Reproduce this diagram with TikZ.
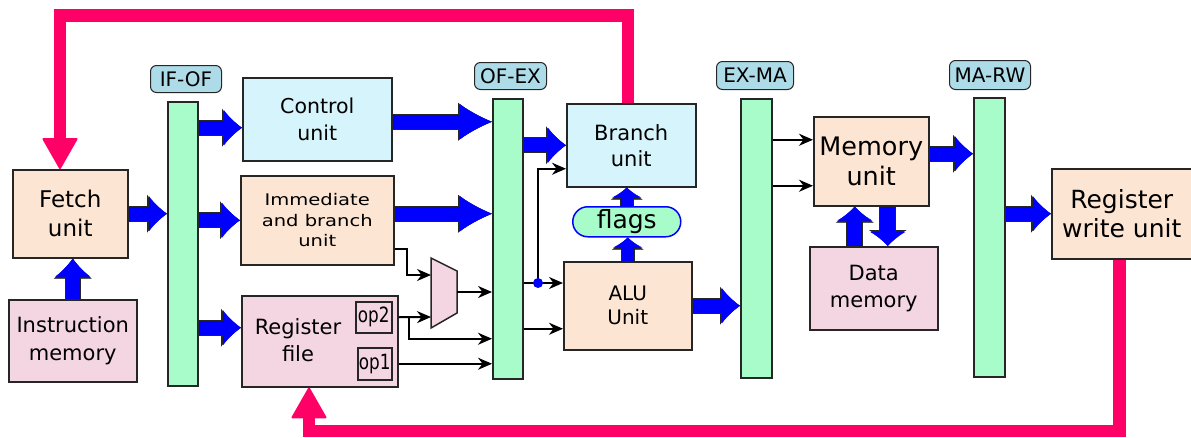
\documentclass[tikz,border=0pt]{standalone}
\usepackage{fontspec}
\setmainfont{DejaVu Sans}
\newfontfamily\widefont[FakeStretch=1.22]{DejaVu Sans}
\newfontfamily\narrowfont[FakeStretch=0.8]{DejaVu Sans}
\usetikzlibrary{arrows.meta}
\definecolor{peach}{RGB}{253,229,211}
\definecolor{rose}{RGB}{244,214,227}
\definecolor{sky}{RGB}{213,244,251}
\definecolor{mint}{RGB}{168,252,202}
\definecolor{tag}{RGB}{173,220,232}
\definecolor{loopred}{RGB}{255,0,102}
\newcommand{\fs}[2]{\fontsize{#1}{#2}\selectfont}
\tikzset{
  busline/.style n args={5}{draw=blue, line width=#1, -{Latex[length=#2,width=#3,line width=0.4pt]},
    preaction={draw=black!85, line width=#1+2pt, -{Latex[length=#4,width=#5,line width=0.4pt]}}},
  bus/.style={busline={14pt}{18pt}{35pt}{20pt}{38pt}},
  longbus/.style={busline={14pt}{32pt}{35pt}{34pt}{38pt}},
  shortbus/.style={busline={12pt}{10pt}{29pt}{12pt}{32pt}},
  membus/.style={busline={15pt}{14pt}{35pt}{16pt}{38pt}}
}

\begin{document}
\begin{tikzpicture}[x=1pt,y=-1pt]
\tikzstyle{every node}+=[inner sep=0pt]
\tikzstyle{unit}=[draw=black!85, line width=1.5pt, anchor=north west, align=center]
\tikzstyle{latch}=[draw=black!85, line width=1.5pt, fill=mint, anchor=north west, minimum width=30pt]
\tikzstyle{tagbox}=[draw=black!85, line width=1pt, fill=tag, rounded corners=6pt, anchor=north west, font=\fs{20}{24}]
\tikzstyle{sig}=[draw=black, line width=2pt, -{Stealth[length=14pt,width=12pt]}]
\tikzstyle{loopback}=[draw=loopred, line width=12.5pt, -{Triangle[length=32pt,width=36pt,round,line width=2pt]}]
\useasboundingbox (0,0) rectangle (1191,437);
\node[unit, fill=peach, minimum width=115pt, minimum height=88pt, font=\fs{23}{29}] (fetch) at (12,169) {Fetch\\unit};
\node[unit, fill=rose, minimum width=128pt, minimum height=82pt, font=\fs{21}{28}] (imem) at (8,299) {Instruction\\memory};
\node[tagbox, minimum width=71pt, minimum height=27pt] (ifoftag) at (150,65) {IF-OF};
\node[latch, minimum height=284pt] (ifof) at (167,101) {};
\node[unit, fill=sky, minimum width=149pt, minimum height=83pt, font=\fs{20.5}{27}] (ctrl) at (242,77) {Control\\unit};
\node[unit, fill=peach, minimum width=153pt, minimum height=89pt, font=\widefont\fs{16}{20.5}] (imm) at (240,175) {Immediate\\and branch\\unit};
\node[unit, fill=rose, minimum width=156pt, minimum height=91pt] (regf) at (241,295) {};
\node[align=center, font=\fs{21}{27}] (regtxt) at (298,340) {Register\\file};
\node[unit, minimum width=36pt, minimum height=31pt, font=\narrowfont\fs{21}{24}] (op2) at (355,301) {op2};
\node[unit, minimum width=34pt, minimum height=32pt, font=\narrowfont\fs{21}{24}] (op1) at (357,347) {op1};
\coordinate (muxtl) at (431,258);
\coordinate (muxtr) at (457,271);
\coordinate (muxbr) at (457,313);
\coordinate (muxbl) at (431,328);
\draw[draw=black!85, line width=1.5pt, fill=rose] (muxtl) -- (muxtr) -- (muxbr) -- (muxbl) -- cycle;
\coordinate (muxa) at (431,275);
\coordinate (muxb) at (431,317);
\coordinate (muxo) at (457,292);
\node[tagbox, minimum width=72pt, minimum height=27pt] (ofextag) at (474,62) {OF-EX};
\node[latch, minimum height=280pt] (ofex) at (492,98) {};
\node[unit, fill=sky, minimum width=129pt, minimum height=83pt, font=\fs{21}{26}] (branch) at (566,103) {Branch\\unit};
\node[unit, draw=blue, fill=mint, rounded corners=15pt, minimum width=108pt, minimum height=30pt, font=\fs{25}{28}] (flags) at (572,206) {flags};
\node[unit, fill=peach, minimum width=128pt, minimum height=88pt, font=\fs{20}{24}] (alu) at (563,261) {ALU\\Unit};
\node[tagbox, minimum width=77pt, minimum height=28pt] (exmatag) at (716,61) {EX-MA};
\node[latch, minimum width=31pt, minimum height=279pt] (exma) at (740,98) {};
\node[unit, fill=peach, minimum width=115pt, minimum height=89pt, font=\fs{25.5}{30}] (mem) at (813,116) {Memory\\unit};
\node[unit, fill=rose, minimum width=128pt, minimum height=83pt, font=\fs{21}{27}] (dmem) at (809,246) {Data\\memory};
\node[tagbox, minimum width=81pt, minimum height=29pt] (marwtag) at (949,60) {MA-RW};
\node[latch, minimum width=31pt, minimum height=279pt] (marw) at (973,97) {};
\node[unit, fill=peach, minimum width=140pt, minimum height=90pt, font=\fs{25}{29}] (rwu) at (1051,168) {Register\\write unit};
\draw[bus] (fetch.east) -- (fetch.east -| ifof.west);
\draw[bus] (imem.north) -- (imem.north |- fetch.south);
\draw[bus] ([yshift=-8.5pt]ctrl.west -| ifof.east) -- ([yshift=-8.5pt]ctrl.west);
\draw[bus] (imm.west -| ifof.east) -- (imm.west);
\draw[bus] ([yshift=13.5pt]regf.west -| ifof.east) -- ([yshift=13.5pt]regf.west);
\draw[longbus] ([yshift=-2.5pt]ctrl.east) -- ([yshift=-2.5pt]ctrl.east -| ofex.west);
\draw[longbus] ([yshift=6.5pt]imm.east) -- ([yshift=6.5pt]imm.east -| ofex.west);
\draw[bus] (branch.west -| ofex.east) -- (branch.west);
\draw[shortbus] (alu.north) -- (alu.north |- flags.south);
\draw[shortbus] (flags.north) -- (flags.north |- branch.south);
\draw[bus] (alu.east) -- (alu.east -| exma.west);
\draw[bus] ([yshift=7.5pt]mem.east) -- ([yshift=7.5pt]mem.east -| marw.west);
\draw[bus] (rwu.west -| marw.east) -- (rwu.west);
\draw[membus] ([xshift=-16.5pt]dmem.north -| mem.south) -- ([xshift=-16.5pt]mem.south);
\draw[membus] ([xshift=16.5pt]mem.south) -- ([xshift=16.5pt]mem.south |- dmem.north);
\coordinate (fork) at ([xshift=10pt]op2.east -| regf.east);
\coordinate (tap) at (538,283);
\draw[sig] ([yshift=-28.5pt]imm.east) -- ++(12,0) |- (muxa);
\draw[sig] (op2.east -| regf.east) -- (muxb);
\draw[sig] (fork) |- ([yshift=-21.5pt]op2.east -| ofex.west);
\draw[sig] (op1.east -| regf.east) -- (op1.east -| ofex.west);
\draw[sig] (muxo) -- (muxo -| ofex.west);
\draw[sig] (tap -| ofex.east) -- (tap -| alu.west);
\draw[sig] (tap) |- ([yshift=-23.5pt]branch.west);
\draw[sig] ([yshift=-23pt]alu.west -| ofex.east) -- ([yshift=-23pt]alu.west);
\fill[blue] (tap) circle (5);
\draw[sig] ([yshift=21.5pt]mem.west -| exma.east) -- ([yshift=21.5pt]mem.west);
\draw[sig] ([yshift=-24.5pt]mem.west -| exma.east) -- ([yshift=-24.5pt]mem.west);
\coordinate (toploop) at (60,15.5);
\coordinate (botloop) at (309,431);
\draw[loopback] ([xshift=-3.5pt]branch.north) |- (toploop) -- (toploop |- fetch.north);
\draw[loopback] ([xshift=-2.5pt]rwu.south) |- (botloop) -- (botloop |- regf.south);
\end{tikzpicture}
\end{document}
